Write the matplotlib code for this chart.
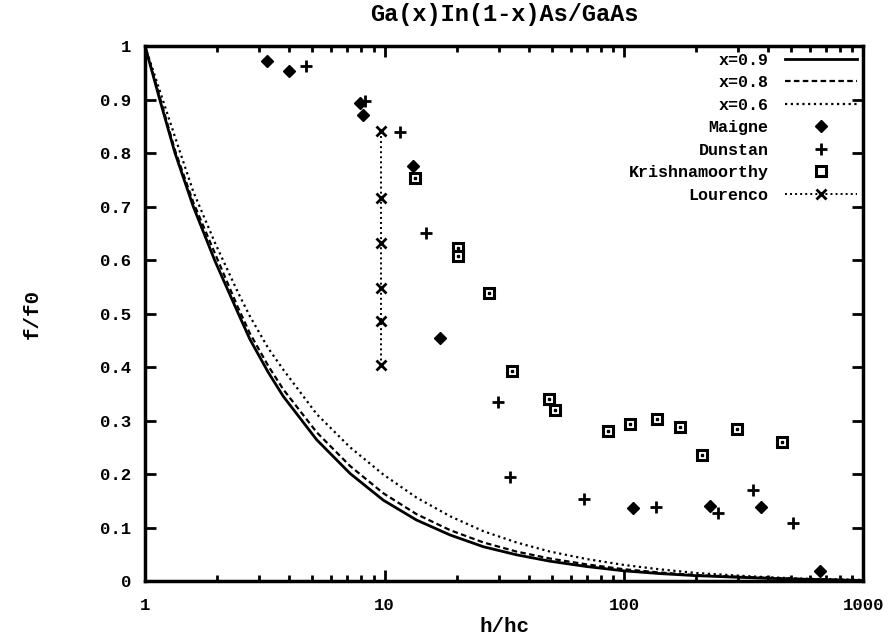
import matplotlib
matplotlib.use("Agg")
import matplotlib.pyplot as plt
from matplotlib.ticker import FixedLocator, LogLocator, NullFormatter

# model curves
h_curve = [1, 1.155, 1.334, 1.59, 1.96, 2.44, 2.74, 3.27, 3.78, 5.21, 7.18,
           9.89, 13.6, 18.8, 25.9, 35.6, 49.1, 70, 100, 140, 200, 300, 400,
           600, 1000]
f_x09 = [1, 0.898, 0.80, 0.70, 0.598, 0.502, 0.452, 0.39, 0.345, 0.264, 0.201,
         0.151, 0.114, 0.086, 0.064, 0.049, 0.037, 0.027, 0.019, 0.014, 0.010,
         0.007, 0.005, 0.003, 0.001]
f_x08 = [1, 0.903, 0.805, 0.708, 0.612, 0.512, 0.463, 0.402, 0.358, 0.278, 0.215,
         0.164, 0.125, 0.095, 0.072, 0.055, 0.042, 0.031, 0.022, 0.016, 0.011,
         0.008, 0.006, 0.003, 0.0015]
f_x06 = [1, 0.915, 0.83, 0.728, 0.632, 0.54, 0.495, 0.435, 0.395, 0.312, 0.25,
         0.199, 0.156, 0.121, 0.093, 0.072, 0.055, 0.041, 0.030, 0.022, 0.015,
         0.010, 0.007, 0.004, 0.002]

# measurements
maigne_h = [3.24, 3.98, 7.9, 8.13, 13.2, 17.05, 109, 228, 372, 656]
maigne_f = [0.972, 0.953, 0.893, 0.872, 0.776, 0.455, 0.137, 0.140, 0.139, 0.019]

dunstan_h = [4.72, 8.29, 11.6, 14.9, 29.7, 33.3, 67.9, 136, 247, 347, 508]
dunstan_f = [0.963, 0.898, 0.840, 0.650, 0.334, 0.194, 0.154, 0.139, 0.127, 0.171, 0.108]

krish_h = [13.4, 20.3, 20.3, 27.2, 34.1, 48.8, 51.7, 85.5, 106, 137, 171, 211, 296, 458]
krish_f = [0.753, 0.623, 0.608, 0.539, 0.392, 0.340, 0.319, 0.281, 0.293, 0.303,
           0.288, 0.236, 0.284, 0.260]

lour_h = [9.7, 9.7, 9.7, 9.7, 9.7, 9.7]
lour_f = [0.842, 0.716, 0.631, 0.547, 0.486, 0.403]

plt.rcParams['font.family'] = ['Liberation Mono', 'DejaVu Sans Mono']
plt.rcParams['font.weight'] = 'bold'

fig = plt.figure(figsize=(8.92, 6.42), dpi=100)
ax = fig.add_axes([0.1626, 0.095, 0.8054, 0.8333])

ax.plot(h_curve, f_x09, color='k', lw=2.0, label='x=0.9')
ax.plot(h_curve, f_x08, color='k', lw=1.6, dashes=(2.5, 1.5), label='x=0.8')
ax.plot(h_curve, f_x06, color='k', lw=1.6, dashes=(1, 1.6), label='x=0.6')
ax.plot(maigne_h, maigne_f, 'kD', ms=6.5, label='Maigne')
ax.plot(dunstan_h, dunstan_f, 'k+', ms=8, mew=2, label='Dunstan')
ax.plot(krish_h, krish_f, 's', ms=6.5, mfc='white', mec='k', mew=2.2,
        ls='none', label='Krishnamoorthy')
ax.plot(krish_h, krish_f, 's', ms=1.8, mfc='k', mec='k', ls='none')
ax.plot(lour_h, lour_f, color='k', lw=1.4, dashes=(1, 1.6), marker='x',
        ms=7, mew=2, label='Lourenco')

ax.set_xscale('log')
ax.set_xlim(1, 1000)
ax.set_ylim(0, 1)
ax.xaxis.set_major_locator(FixedLocator([1, 10, 100, 1000]))
ax.xaxis.set_major_formatter(plt.FuncFormatter(lambda v, p: '%d' % v))
ax.xaxis.set_minor_locator(LogLocator(base=10, subs=range(2, 10)))
ax.xaxis.set_minor_formatter(NullFormatter())
yt = [i / 10 for i in range(11)]
ax.set_yticks(yt)
ax.set_yticklabels(['0'] + ['%.1f' % v for v in yt[1:-1]] + ['1'])

ax.tick_params(which='both', direction='in', top=True, right=True,
               labelsize=12.5, width=2, pad=10)
ax.tick_params(axis='x', pad=12)
ax.tick_params(which='major', length=8)
ax.tick_params(which='minor', length=4)
for s in ax.spines.values():
    s.set_linewidth(2.5)

ax.set_title('Ga(x)In(1-x)As/GaAs', fontsize=17, fontweight='bold', pad=18)
ax.set_xlabel('h/hc', fontsize=15, fontweight='bold', labelpad=3)
ax.set_ylabel('f/f0', fontsize=15, fontweight='bold', labelpad=42)

ax.legend(loc='upper right', markerfirst=False, frameon=False, fontsize=12,
          handlelength=4.3, handletextpad=1.0, labelspacing=0.45,
          borderaxespad=0.3, borderpad=0.1)

fig.savefig('out.png', dpi=100)
